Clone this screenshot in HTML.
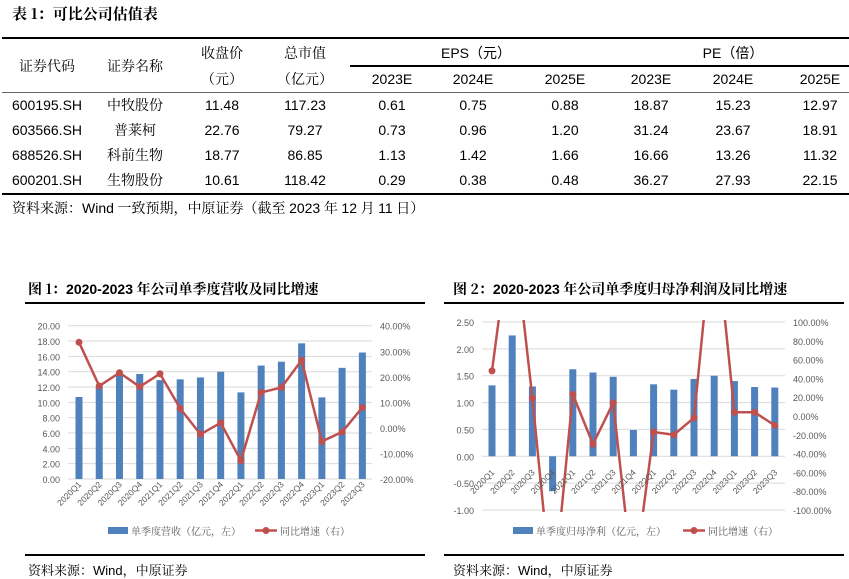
<!DOCTYPE html>
<html><head><meta charset="utf-8">
<style>
body{margin:0;width:849px;height:579px;background:#fff;position:relative;overflow:hidden;font-family:"Liberation Sans","Noto Sans CJK SC",sans-serif;color:#000}
.a{position:absolute;white-space:nowrap}
.c{position:absolute;transform:translate(-50%,-50%);white-space:nowrap;font-size:14px}
.zh{font-family:"Noto Serif CJK SC","Noto Sans CJK SC",serif}
.hl{position:absolute;background:#000}
</style></head><body>
<div class="a zh" style="left:12px;top:3px;font-size:15px;font-weight:bold">表 1：可比公司估值表</div>
<div class="hl" style="left:2px;top:37px;width:847px;height:2px"></div>
<div class="hl" style="left:350px;top:65px;width:499px;height:2px"></div>
<div class="hl" style="left:2px;top:92px;width:847px;height:1px;background:#666"></div>
<div class="hl" style="left:2px;top:193px;width:847px;height:2px"></div>
<div id="tbl"></div>
<div class="a zh" style="left:12px;top:198px;font-size:14px">资料来源：<span style="font-family:'Liberation Sans'">Wind</span> 一致预期，中原证券（截至 <span style="font-family:'Liberation Sans'">2023</span> 年 <span style="font-family:'Liberation Sans'">12</span> 月 <span style="font-family:'Liberation Sans'">11</span> 日）</div>

<div class="a zh" style="left:28px;top:279px;font-size:14px;font-weight:bold">图 1：<span style="font-family:'Liberation Sans'">2020-2023</span> 年公司单季度营收及同比增速</div>
<div class="a zh" style="left:453px;top:279px;font-size:14px;font-weight:bold">图 2：<span style="font-family:'Liberation Sans'">2020-2023</span> 年公司单季度归母净利润及同比增速</div>
<div class="hl" style="left:25px;top:302px;width:400px;height:2px"></div>
<div class="hl" style="left:444px;top:302px;width:400px;height:2px"></div>
<div class="hl" style="left:25px;top:554px;width:400px;height:2px"></div>
<div class="hl" style="left:444px;top:554px;width:400px;height:2px"></div>
<div class="a zh" style="left:28px;top:560px;font-size:13px">资料来源：<span style="font-family:'Liberation Sans'">Wind</span>，中原证券</div>
<div class="a zh" style="left:453px;top:560px;font-size:13px">资料来源：<span style="font-family:'Liberation Sans'">Wind</span>，中原证券</div>

<svg id="svg" width="849" height="579" style="position:absolute;left:0;top:0"></svg>

<script>
// ---- table ----
var codes=["600195.SH","603566.SH","688526.SH","600201.SH"];
var names=["中牧股份","普莱柯","科前生物","生物股份"];
var prices=["11.48","22.76","18.77","10.61"];
var mcaps=["117.23","79.27","86.85","118.42"];
var eps=[["0.61","0.75","0.88"],["0.73","0.96","1.20"],["1.13","1.42","1.66"],["0.29","0.38","0.48"]];
var pe=[["18.87","15.23","12.97"],["31.24","23.67","18.91"],["16.66","13.26","11.32"],["36.27","27.93","22.15"]];
var tbl=document.getElementById('tbl');
var colX=[47,135,222,305,392,473,565,651,733,820];
function cell(x,y,t,zh,name){var d=document.createElement('div');d.className='c'+(zh?' zh':'');d.style.left=x+'px';d.style.top=y+'px';d.textContent=t;


tbl.appendChild(d);}
cell(47,66,'证券代码',1,'header-code');cell(135,66,'证券名称',1,'header-name');
cell(222,53,'收盘价',1,'header-price');cell(222,79,'（元）',1,'header-price-unit');
cell(305,53,'总市值',1,'header-mcap');cell(305,79,'（亿元）',1,'header-mcap-unit');
cell(476,53,'EPS（元）',0,'header-eps');cell(733,53,'PE（倍）',0,'header-pe');
var yrs=['2023E','2024E','2025E'];
for(var i=0;i<3;i++){cell(colX[4+i],79,yrs[i],0,'header-eps-year');cell(colX[7+i],79,yrs[i],0,'header-pe-year');}
for(var r=0;r<4;r++){var y=105+r*25;
cell(colX[0],y,codes[r],0,'row-code');cell(colX[1],y,names[r],1,'row-name');
cell(colX[2],y,prices[r],0,'row-price');cell(colX[3],y,mcaps[r],0,'row-mcap');
for(var j=0;j<3;j++){cell(colX[4+j],y,eps[r][j],0,'row-eps');cell(colX[7+j],y,pe[r][j],0,'row-pe');}}

// ---- chart data ----
var quarters=["2020Q1","2020Q2","2020Q3","2020Q4","2021Q1","2021Q2","2021Q3","2021Q4","2022Q1","2022Q2","2022Q3","2022Q4","2023Q1","2023Q2","2023Q3"];
var revenue=[10.7,12.1,13.8,13.7,12.9,13.0,13.25,14.0,11.3,14.8,15.3,17.7,10.65,14.5,16.5];
var revGrowth=[33.5,16.4,21.6,16.1,21.2,7.6,-2.5,2.0,-12.8,13.9,15.8,26.5,-5.3,-1.6,8.0];
var profit=[1.32,2.25,1.30,-0.65,1.62,1.56,1.48,0.49,1.34,1.24,1.44,1.50,1.40,1.29,1.28];
var profitGrowth=[48,210,19,-198,23,-30,14,-180,-17,-20,-2,215,4,4,-10];
var leftTicks1=[0,2,4,6,8,10,12,14,16,18,20];
var rightTicks1=[-20,-10,0,10,20,30,40];
var leftTicks2=[-1,-0.5,0,0.5,1,1.5,2,2.5];
var rightTicks2=[-100,-80,-60,-40,-20,0,20,40,60,80,100];

var NS='http://www.w3.org/2000/svg',svg=document.getElementById('svg');
function el(t,a,p){var e=document.createElementNS(NS,t);for(var k in a)e.setAttribute(k,a[k]);(p||svg).appendChild(e);return e;}
var defs=el('defs',{});
var cp=el('clipPath',{id:'clip2'},defs);el('rect',{x:470,y:320,width:330,height:192},cp);

function chart(o){
  var yL=function(v){return o.y0+(v-o.lmin)/(o.lmax-o.lmin)*(o.y1-o.y0);};
  var yR=function(v){return o.y0+(v-o.rmin)/(o.rmax-o.rmin)*(o.y1-o.y0);};
  var xC=function(i){return o.xFirst+i*o.step;};
  o.lticks.forEach(function(t){var y=yL(t);
    var g=el('line',{x1:o.gx0,x2:o.gx1,y1:y,y2:y,stroke:'#d9d9d9','stroke-width':1});
    
    
    var tx=el('text',{x:o.lx,y:y+4,'text-anchor':'end','font-size':9,fill:'#595959'});tx.textContent=t.toFixed(2);
    
    });
  o.rticks.forEach(function(t){var y=yR(t);
    var tx=el('text',{x:o.rx,y:y+4,'font-size':9,fill:'#595959'});tx.textContent=t.toFixed(2)+'%';
    
    });
  o.bars.forEach(function(v,i){var y0=yL(0),y=yL(v);
    var b=el('rect',{x:xC(i)-3.5,y:Math.min(y,y0),width:7,height:Math.abs(y-y0),fill:'#4f81bd'});
    
    });
  var g=el('g',o.clip?{'clip-path':'url(#clip2)'}:{});
  var pts=o.line.map(function(v,i){return xC(i)+','+yR(v);}).join(' ');
  var pl=el('polyline',{points:pts,fill:'none',stroke:'#c0504d','stroke-width':2.5},g);
  
  
  o.line.forEach(function(v,i){var c=el('circle',{cx:xC(i),cy:yR(v),r:3.5,fill:'#c0504d'},g);
    
    });
  quarters.forEach(function(q,i){var x=xC(i)+3,y=o.labY;
    var t=el('text',{x:x,y:y,'text-anchor':'end','font-size':8.5,fill:'#595959',transform:'rotate(-45 '+x+' '+y+')'});t.textContent=q;
    
    });
  var lr=el('rect',{x:o.legX,y:527,width:20,height:7,fill:'#4f81bd'});
  
  
  var lt=el('text',{x:o.legX+23,y:535,'font-size':10,fill:'#595959','font-family':'Noto Serif CJK SC, serif'});lt.textContent=o.legBar;
  
  
  var ll=el('line',{x1:o.legX2,x2:o.legX2+22,y1:530.5,y2:530.5,stroke:'#c0504d','stroke-width':2.5});
  
  
  el('circle',{cx:o.legX2+11,cy:530.5,r:3.5,fill:'#c0504d'});
  var lt2=el('text',{x:o.legX2+25,y:535,'font-size':10,fill:'#595959','font-family':'Noto Serif CJK SC, serif'});lt2.textContent='同比增速（右）';
  
  
}
chart({y0:479,y1:325.7,lmin:0,lmax:20,rmin:-20,rmax:40,xFirst:79,step:20.24,gx0:68,gx1:372,lx:60,rx:380,
  lticks:leftTicks1,rticks:rightTicks1,bars:revenue,line:revGrowth,labY:485,legX:108,legX2:255,legBar:'单季度营收（亿元，左）'});
chart({y0:510,y1:322,lmin:-1,lmax:2.5,rmin:-100,rmax:100,xFirst:492,step:20.2,gx0:482,gx1:785,lx:474,rx:793,
  lticks:leftTicks2,rticks:rightTicks2,bars:profit,line:profitGrowth,labY:473,legX:513,legX2:683,legBar:'单季度归母净利（亿元，左）',clip:true});
</script>
</body></html>
